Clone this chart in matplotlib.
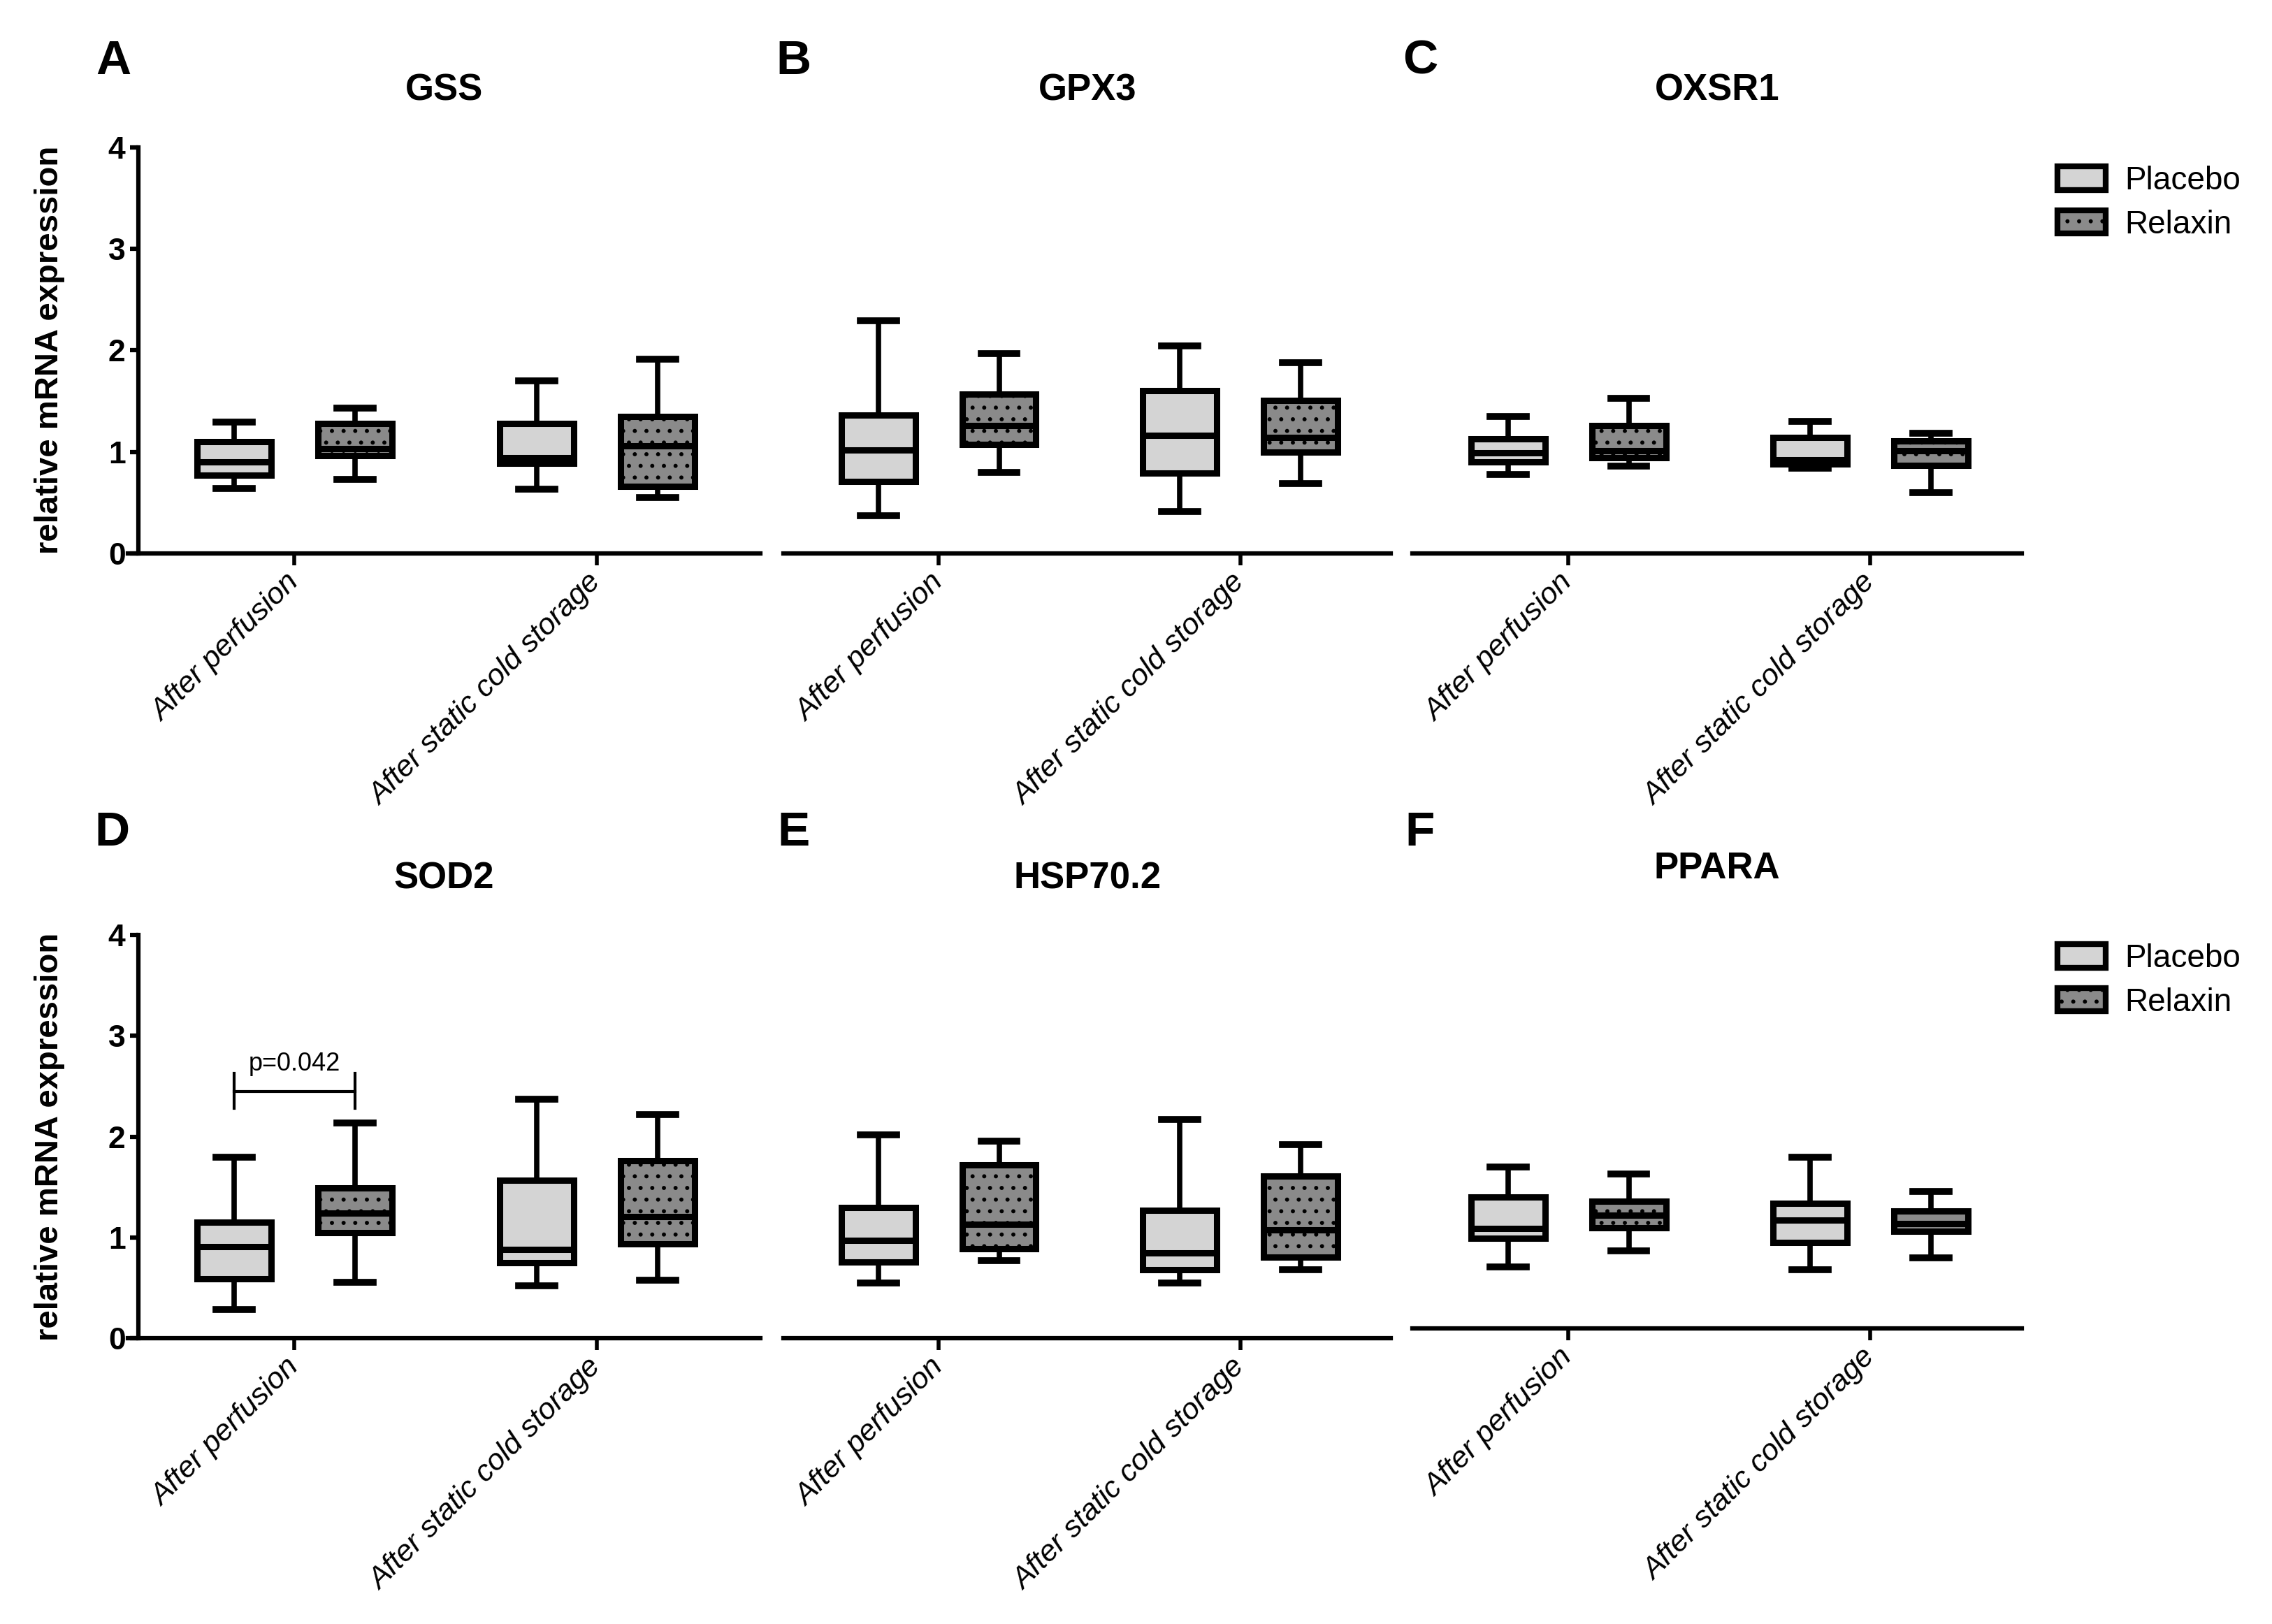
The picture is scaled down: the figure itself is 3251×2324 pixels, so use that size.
import matplotlib
matplotlib.use("Agg")
import matplotlib.pyplot as plt
from matplotlib.patches import Patch

plt.rcParams['font.family'] = ['Liberation Sans', 'DejaVu Sans']
plt.rcParams['hatch.linewidth'] = 1.8
plt.rcParams['hatch.color'] = 'black'

groups = ["After perfusion", "After static cold storage"]
series = ["Placebo", "Relaxin"]
genes = ["GSS", "GPX3", "OXSR1", "SOD2", "HSP70.2", "PPARA"]
letters = ["A", "B", "C", "D", "E", "F"]

# box stats per gene: [placebo perf, relaxin perf, placebo cold, relaxin cold]
# each row: whisker low, Q1, median, Q3, whisker high
gss = [[0.64, 0.77, 0.90, 1.10, 1.29],
       [0.73, 0.96, 1.03, 1.28, 1.43],
       [0.63, 0.89, 0.94, 1.28, 1.70],
       [0.55, 0.66, 1.06, 1.35, 1.91]]
gpx3 = [[0.37, 0.71, 1.02, 1.36, 2.29],
        [0.80, 1.07, 1.26, 1.57, 1.97],
        [0.41, 0.79, 1.16, 1.60, 2.04],
        [0.69, 1.00, 1.14, 1.51, 1.88]]
oxsr1 = [[0.78, 0.90, 0.99, 1.13, 1.35],
         [0.86, 0.94, 1.01, 1.26, 1.53],
         [0.84, 0.88, 0.92, 1.14, 1.30],
         [0.60, 0.87, 1.01, 1.11, 1.18]]
sod2 = [[0.29, 0.59, 0.91, 1.15, 1.80],
        [0.56, 1.05, 1.24, 1.49, 2.14],
        [0.52, 0.75, 0.88, 1.57, 2.37],
        [0.58, 0.94, 1.21, 1.76, 2.22]]
hsp70 = [[0.55, 0.76, 0.97, 1.30, 2.02],
         [0.77, 0.89, 1.13, 1.72, 1.96],
         [0.55, 0.68, 0.85, 1.27, 2.17],
         [0.68, 0.81, 1.08, 1.61, 1.92]]
ppara = [[0.61, 0.89, 0.99, 1.30, 1.60],
         [0.77, 1.00, 1.12, 1.26, 1.53],
         [0.58, 0.85, 1.07, 1.24, 1.70],
         [0.70, 0.96, 1.04, 1.16, 1.36]]
all_stats = [gss, gpx3, oxsr1, sod2, hsp70, ppara]

p_text = "p=0.042"

fill_colors = ["#d4d4d4", "#8a8a8a"]
hatches = [None, "."]

W, H = 1560.0, 1115.0
def fx(x):
    return x / W
def fy(y):
    return 1 - y / H

col_x = [(88, 522), (538, 955), (970, 1388)]
row_y = [(380, 101), (919, 642)]

fig = plt.figure(figsize=(32.51, 23.24), dpi=100)

axes = []
for i in range(6):
    r, c = divmod(i, 3)
    x0, x1 = col_x[c]
    yb, yt = row_y[r]
    if i == 5:
        yb, yt = yb - 7, yt - 7
    ax = fig.add_axes([fx(x0), fy(yb), fx(x1) - fx(x0), fy(yt) - fy(yb)])
    axes.append(ax)

    stats = all_stats[i]
    for s in range(2):
        bx = []
        pos = []
        for g in range(2):
            lo, q1, med, q3, hi = stats[g * 2 + s]
            bx.append(dict(whislo=lo, q1=q1, med=med, q3=q3, whishi=hi, fliers=[]))
            pos.append(g + (-0.2 if s == 0 else 0.2))
        ax.bxp(bx, positions=pos, widths=0.245, capwidths=0.12,
               patch_artist=True, showfliers=False,
               boxprops=dict(facecolor=fill_colors[s], edgecolor='black',
                             linewidth=6.5, hatch=hatches[s]),
               medianprops=dict(color='black', linewidth=6.5),
               whiskerprops=dict(color='black', linewidth=5.5),
               capprops=dict(color='black', linewidth=7),
               manage_ticks=False)

    ax.set_ylim(0, 4)
    if c == 0:
        ax.set_xlim(-0.55, 1.54)
        ax.spines['left'].set_position(('data', -0.517))
        ax.spines['left'].set_bounds(0, 4)
        ax.spines['left'].set_linewidth(4.5)
        ax.set_yticks([0, 1, 2, 3, 4])
        ax.tick_params(axis='y', length=9, width=4.5, pad=4)
        for lb in ax.get_yticklabels():
            lb.set_fontsize(32)
            lb.set_fontweight('bold')
        ax.set_ylabel("relative mRNA expression", fontsize=34, fontweight='bold')
        ax.yaxis.set_label_coords(-0.10, 0.5)
    else:
        ax.set_xlim(-0.515, 1.5)
        ax.spines['left'].set_visible(False)
        ax.set_yticks([])
    ax.spines['top'].set_visible(False)
    ax.spines['right'].set_visible(False)
    ax.spines['bottom'].set_linewidth(4.5)

    ax.set_xticks([0, 1])
    ax.set_xticklabels(groups, rotation=45, ha='right', va='center',
                       rotation_mode='anchor', fontsize=31, style='italic')
    ax.tick_params(axis='x', length=12, width=4, pad=14)
    ax.set_title(genes[i], fontsize=38, fontweight='bold', pad=48)

# significance bracket in SOD2
ax = axes[3]
ax.plot([-0.2, 0.2], [2.45, 2.45], color='black', linewidth=3)
ax.plot([-0.2, -0.2], [2.28, 2.63], color='black', linewidth=3)
ax.plot([0.2, 0.2], [2.28, 2.63], color='black', linewidth=3)
ax.text(0, 2.6, p_text, ha='center', va='bottom', fontsize=26)

letter_pos = [(78, 42), (545, 42), (975, 42), (77, 572), (545, 572), (975, 572)]
for lt, (x, y) in zip(letters, letter_pos):
    fig.text(fx(x), fy(y), lt, fontsize=50, fontweight='bold', ha='center', va='center')

handles = [Patch(facecolor=fill_colors[s], edgecolor='black', linewidth=6,
                 hatch=hatches[s]) for s in range(2)]
for ly in (105, 639):
    fig.legend(handles, series, loc='upper left', bbox_to_anchor=(fx(1404), fy(ly)),
               frameon=False, fontsize=33, handlelength=1.5, handleheight=0.75,
               handletextpad=0.6, labelspacing=0.4, borderaxespad=0)

fig.savefig("out.png", dpi=100)
